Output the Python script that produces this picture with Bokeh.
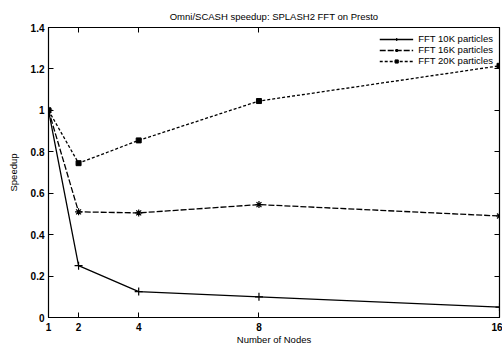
from bokeh.plotting import figure
from bokeh.models import FixedTicker, LinearAxis, Range1d, Legend, LegendItem, CustomJSTickFormatter
from bokeh.embed import file_html
from bokeh.resources import INLINE

nodes = [1, 2, 4, 8, 16]
fft10k = [1.0, 0.25, 0.125, 0.10, 0.05]
fft16k = [1.0, 0.51, 0.505, 0.545, 0.49]
fft20k = [1.0, 0.745, 0.855, 1.045, 1.215]
x_ticks = [1, 2, 4, 8, 16]
y_ticks = [0, 0.2, 0.4, 0.6, 0.8, 1, 1.2, 1.4]

FONT = "Liberation Sans"

p = figure(frame_width=451, frame_height=290, output_backend="svg", toolbar_location=None,
           x_range=Range1d(1, 16), y_range=Range1d(0, 1.4),
           min_border_left=48, min_border_right=3, min_border_top=27, min_border_bottom=30,
           title="Omni/SCASH speedup: SPLASH2 FFT on Presto")
p.title.text_font = FONT
p.title.text_font_size = "9.5px"
p.title.text_font_style = "normal"
p.title.text_color = "black"
p.title.align = "center"
p.title.offset = 0
p.title.standoff = 12

p.grid.visible = False
p.outline_line_color = "black"
p.outline_line_width = 1.2
p.background_fill_color = "white"
p.border_fill_color = "white"

for ax in (p.xaxis[0], p.yaxis[0]):
    ax.major_tick_in = 5
    ax.major_tick_out = 0
    ax.minor_tick_line_color = None
    ax.axis_line_color = "black"
    ax.major_tick_line_color = "black"
    ax.major_label_text_font = FONT
    ax.major_label_text_font_size = "10px"
    ax.major_label_text_font_style = "bold"
    ax.major_label_text_color = "black"
    ax.axis_label_text_font = FONT
    ax.axis_label_text_font_size = "9.5px"
    ax.axis_label_text_font_style = "normal"
    ax.axis_label_text_color = "black"

p.xaxis[0].ticker = FixedTicker(ticks=x_ticks)
p.yaxis[0].ticker = FixedTicker(ticks=y_ticks)
p.yaxis[0].major_label_overrides = {0: "0", 1: "1"}
p.xaxis[0].axis_label = "Number of Nodes"
p.yaxis[0].axis_label = "Speedup"
p.xaxis[0].major_label_standoff = 5
p.xaxis[0].axis_label_standoff = 0
p.yaxis[0].major_label_standoff = 4
p.yaxis[0].axis_label_standoff = 9

blank = CustomJSTickFormatter(code="return ''")
top = LinearAxis(ticker=FixedTicker(ticks=x_ticks), formatter=blank, major_tick_in=5,
                 major_tick_out=0, minor_tick_line_color=None, major_label_standoff=0,
                 major_label_text_font_size="1px")
right = LinearAxis(ticker=FixedTicker(ticks=y_ticks), formatter=blank, major_tick_in=5,
                   major_tick_out=0, minor_tick_line_color=None, major_label_standoff=0,
                   major_label_text_font_size="1px")
p.add_layout(top, "above")
p.add_layout(right, "right")

l1 = p.line(nodes, fft10k, line_color="black", line_width=1.3)
m1 = p.scatter(nodes, fft10k, marker="cross", size=8, line_color="black", line_width=1.2)
l2 = p.line(nodes, fft16k, line_color="black", line_width=1.3, line_dash="6 2")
m2 = p.scatter(nodes, fft16k, marker="asterisk", size=7, line_color="black", line_width=1.2)
l3 = p.line(nodes, fft20k, line_color="black", line_width=1.3, line_dash="3 2")
m3 = p.scatter(nodes, fft20k, marker="square", size=5, line_color="black", fill_color="black")

legend = Legend(items=[
    LegendItem(label="FFT 10K particles", renderers=[l1, m1]),
    LegendItem(label="FFT 16K particles", renderers=[l2, m2]),
    LegendItem(label="FFT 20K particles", renderers=[l3, m3]),
], location="top_right")
legend.label_text_font = FONT
legend.label_text_font_size = "9.5px"
legend.label_text_color = "black"
legend.label_text_line_height = 0.9
legend.label_height = 8
legend.glyph_height = 8
legend.glyph_width = 34
legend.spacing = -2
legend.padding = 2
legend.margin = 6
legend.border_line_color = None
legend.background_fill_alpha = 0
p.add_layout(legend)

open("out.html", "w").write(file_html(p, INLINE))
